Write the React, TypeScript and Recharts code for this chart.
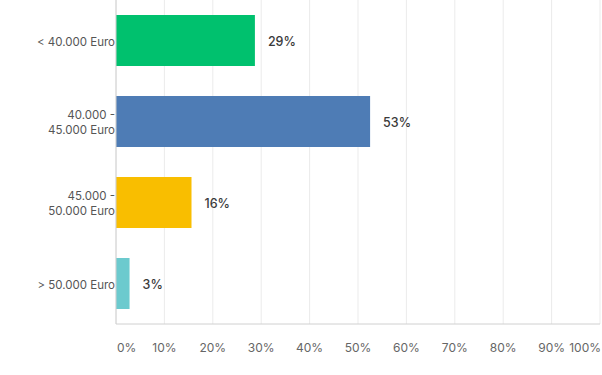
import React from "react";
import { BarChart, Bar, XAxis, YAxis, CartesianGrid, Cell, LabelList } from "recharts";

const categories = ["< 40.000 Euro", "40.000 - 45.000 Euro", "45.000 - 50.000 Euro", "> 50.000 Euro"];
const values = [28.7, 52.5, 15.6, 2.8];
const valueLabels = ["29%", "53%", "16%", "3%"];
const colors = ["#00C16E", "#4E7CB5", "#F9BE00", "#6CCACE"];
const xTicks = [0, 10, 20, 30, 40, 50, 60, 70, 80, 90, 100];

const data = categories.map((c, i) => ({ name: c, value: values[i], label: valueLabels[i] }));

const FONT = "Inter, 'Open Sans', sans-serif";

const YTick = (props: any) => {
  const { x, y, payload } = props;
  const text: string = payload.value;
  const idx = text.indexOf(" - ");
  const lines = idx >= 0 ? [text.slice(0, idx + 2), text.slice(idx + 3)] : [text];
  const lh = 15.5;
  const start = -((lines.length - 1) * lh) / 2;
  return (
    <text x={x} y={y + 1} textAnchor="end" fill="#555" fontSize={11.5} fontFamily={FONT}>
      {lines.map((l, i) => (
        <tspan key={i} x={x} y={y + 1 + start + i * lh} dy="0.35em">
          {l}
        </tspan>
      ))}
    </text>
  );
};

const XTick = (props: any) => {
  const { x, y, payload, index } = props;
  const anchor = index === 0 ? "start" : index === xTicks.length - 1 ? "end" : "middle";
  return (
    <text x={x + (index === 0 ? 1 : index === xTicks.length - 1 ? 1 : 0)} y={y} textAnchor={anchor} fill="#666" fontSize={12} fontFamily={FONT} dy="0.35em">
      {payload.value + "%"}
    </text>
  );
};

export default function App() {
  return (
    <div style={{ position: "absolute", left: 0, top: 0, width: 602, height: 375, background: "#fff" }}>
      <BarChart
        width={602}
        height={375}
        data={data}
        layout="vertical"
        margin={{ top: 0, right: 2, bottom: 0, left: 0 }}
        barCategoryGap={30}
      >
        <CartesianGrid horizontal={false} vertical={true} stroke="#ebebeb" />
        <XAxis
          type="number"
          domain={[0, 100]}
          ticks={xTicks}
          interval={0}
          height={51}
          tickLine={false}
          axisLine={{ stroke: "#d0d0d0" }}
          tick={<XTick />}
          tickMargin={18}
        />
        <YAxis
          type="category"
          dataKey="name"
          width={116}
          tickLine={false}
          axisLine={{ stroke: "#d0d0d0" }}
          tick={<YTick />}
          tickMargin={1}
          tickSize={0}
        />
        <Bar dataKey="value" isAnimationActive={false} barSize={51}>
          {data.map((d, i) => (
            <Cell key={i} fill={colors[i]} />
          ))}
          <LabelList
            dataKey="label"
            position="right"
            offset={13}
            fill="#3a3a3a"
            fontSize={12.5}
            fontWeight={500}
            fontFamily={FONT}
            dy={1}
          />
        </Bar>
      </BarChart>
    </div>
  );
}
